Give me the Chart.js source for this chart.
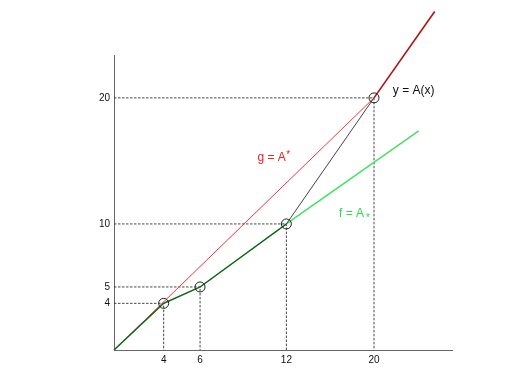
<!DOCTYPE html>
<html>
<head>
<meta charset="utf-8">
<script src="https://cdn.jsdelivr.net/npm/chart.js@4"></script>
<style>
  html, body { margin: 0; padding: 0; background: #fff; }
  #wrap { width: 527px; height: 372px; }
</style>
</head>
<body>
<div id="wrap"><canvas id="chart" width="527" height="372"></canvas></div>
<script>
// knots of y = A(x): origin, then the four marked points (positions on the drawn axes)
const knotX = [0, 3.82, 6.62, 13.26, 20];
const knotY = [0, 3.7, 5, 10, 20];

// tick labels shown under / beside the knots
const xTickLabels = ['4', '6', '12', '20'];
const yTickLabels = ['4', '5', '10', '20'];

// where the lines run out past the last knot
const tailX = [20, 24.67];      // A(x) beyond x = 20
const tailY = [20, 26.85];
const fEndX = 23.44;            // f = A_* continues to here
const fEndY = 17.38;

// 1. BUILD THE SERIES
const pts = (xs, ys) => xs.map((x, i) => ({ x: x, y: ys[i] }));

const aLower = pts(knotX.slice(0, 4), knotY.slice(0, 4));
const aMiddle = pts(knotX.slice(3), knotY.slice(3));
const aTail = pts(tailX, tailY);
const fLine = pts(knotX.slice(0, 4).concat([fEndX]), knotY.slice(0, 4).concat([fEndY]));
const gLine = pts([knotX[0], knotX[4]], [knotY[0], knotY[4]]);
const markers = pts(knotX.slice(1), knotY.slice(1));

// dashed guides: axis -> knot -> axis, broken by a null between knots
const guides = [];
for (let i = 1; i < knotX.length; i++) {
    guides.push({ x: 0, y: knotY[i] }, { x: knotX[i], y: knotY[i] }, { x: knotX[i], y: 0 }, { x: knotX[i], y: null });
}

// 2. TEXT LABELS ON THE PLOT
const textPlugin = {
    id: 'curveLabels',
    afterDatasetsDraw(chart) {
        const { ctx, scales: { x, y } } = chart;
        ctx.save();
        ctx.textBaseline = 'alphabetic';
        ctx.textAlign = 'left';

        // y = A(x)
        ctx.fillStyle = '#111';
        ctx.font = "12px 'Liberation Sans', Arial, sans-serif";
        ctx.fillText('y = A(x)', x.getPixelForValue(21.45), y.getPixelForValue(20.32));

        // g = A^*
        let px = x.getPixelForValue(11.03), py = y.getPixelForValue(15.02);
        ctx.fillStyle = '#f02020';
        ctx.font = "12px 'Liberation Sans', Arial, sans-serif";
        ctx.fillText('g = A', px, py);
        let w = ctx.measureText('g = A').width;
        ctx.font = "10px 'Liberation Sans', Arial, sans-serif";
        ctx.fillText('*', px + w + 0.5, py - 3);

        // f = A_*
        px = x.getPixelForValue(17.31); py = y.getPixelForValue(10.56);
        ctx.fillStyle = '#30d850';
        ctx.font = "12px 'Liberation Sans', Arial, sans-serif";
        ctx.fillText('f = A', px, py);
        w = ctx.measureText('f = A').width;
        ctx.font = "10px 'Liberation Sans', Arial, sans-serif";
        ctx.fillText('*', px + w + 2, py + 4);
        ctx.restore();
    }
};

// 3. CHART
const line = (data, color, width, extra) => Object.assign({
    data: data,
    showLine: true,
    borderColor: color,
    borderWidth: width,
    pointRadius: 0,
    fill: false,
    clip: false,
    tension: 0
}, extra || {});

new Chart(document.getElementById('chart'), {
    type: 'scatter',
    data: {
        datasets: [
            {
                data: markers,
                showLine: false,
                pointRadius: 5,
                pointBorderWidth: 1,
                pointBorderColor: '#222',
                pointBackgroundColor: 'rgba(0,0,0,0)',
                clip: false
            },
            line(aLower, 'rgba(20,60,20,0.85)', 1.2),
            line(aMiddle, '#444', 1),
            line(aTail, '#b01010', 1.6),
            line(fLine, '#40e060', 1.4),
            line(gLine, '#ff3030', 1),
            line(guides, '#333', 0.9, { borderDash: [2.5, 1.5], spanGaps: false })
        ]
    },
    options: {
        responsive: false,
        animation: false,
        devicePixelRatio: 1,
        layout: { padding: { left: 0, top: 55, right: 75, bottom: 0 } },
        plugins: {
            legend: { display: false },
            tooltip: { enabled: false }
        },
        scales: {
            x: {
                type: 'linear',
                min: 0,
                max: 26,
                grid: { display: false, drawTicks: false },
                border: { display: true, color: '#666', width: 1 },
                afterBuildTicks: s => { s.ticks = knotX.slice(1).map(v => ({ value: v })); },
                afterFit: s => { s.height = 22; },
                ticks: {
                    autoSkip: false,
                    maxRotation: 0,
                    padding: 4,
                    color: '#111',
                    font: { family: "'Liberation Sans', Arial, sans-serif", size: 10 },
                    callback: (v, i) => xTickLabels[i]
                }
            },
            y: {
                type: 'linear',
                min: 0,
                max: 23.4,
                grid: { display: false, drawTicks: false },
                border: { display: true, color: '#666', width: 1 },
                afterBuildTicks: s => { s.ticks = knotY.slice(1).map(v => ({ value: v })); },
                afterFit: s => { s.width = 114; },
                ticks: {
                    autoSkip: false,
                    padding: 4,
                    color: '#111',
                    font: { family: "'Liberation Sans', Arial, sans-serif", size: 10 },
                    callback: (v, i) => yTickLabels[i]
                }
            }
        }
    },
    plugins: [textPlugin]
});
</script>
</body>
</html>
